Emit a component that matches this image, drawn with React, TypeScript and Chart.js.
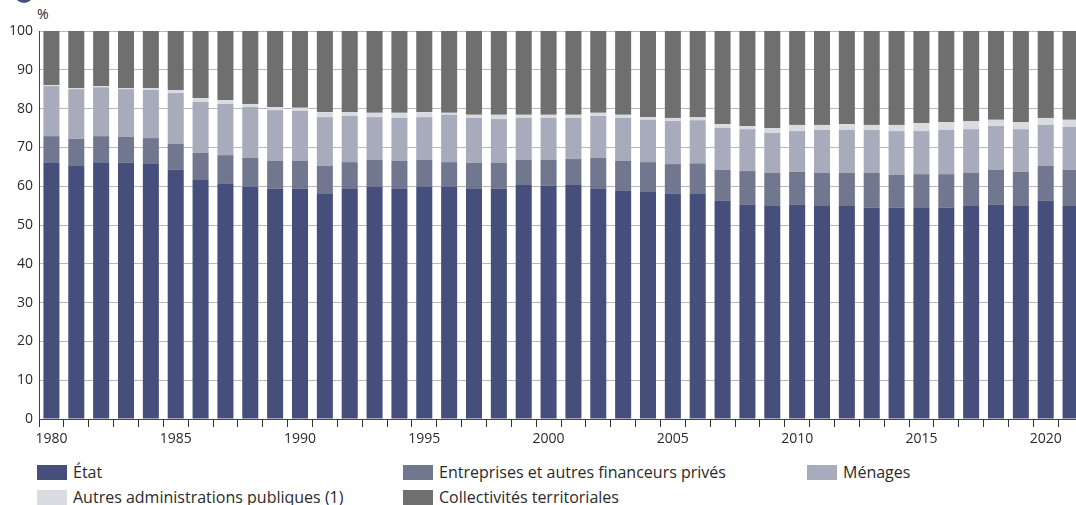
import React, { useEffect, useRef } from "react";
import { Chart, registerables } from "chart.js";

Chart.register(...registerables);

const years: string[] = [
  "1980","1981","1982","1983","1984","1985","1986","1987","1988","1989",
  "1990","1991","1992","1993","1994","1995","1996","1997","1998","1999",
  "2000","2001","2002","2003","2004","2005","2006","2007","2008","2009",
  "2010","2011","2012","2013","2014","2015","2016","2017","2018","2019",
  "2020","2021",
];

const etat: number[] = [
  66.2, 65.2, 66.2, 66.0, 65.7, 64.2, 61.6, 60.6, 59.8, 59.3,
  59.3, 58.2, 59.5, 59.8, 59.5, 59.8, 59.8, 59.5, 59.3, 60.3,
  60.1, 60.3, 59.5, 58.8, 58.5, 58.0, 58.2, 56.2, 55.2, 54.9,
  55.2, 54.9, 54.9, 54.4, 54.4, 54.6, 54.4, 54.9, 55.2, 54.9,
  56.2, 54.9,
];
const entreprises: number[] = [
  6.7, 7.0, 6.7, 6.7, 6.7, 6.7, 7.0, 7.4, 7.5, 7.2,
  7.2, 7.0, 6.7, 7.0, 7.0, 7.0, 6.4, 6.5, 6.7, 6.5,
  6.7, 6.7, 7.8, 7.7, 7.7, 7.7, 7.7, 8.0, 8.7, 8.5,
  8.5, 8.5, 8.5, 9.0, 8.5, 8.5, 8.7, 8.5, 9.0, 8.8,
  9.0, 9.3,
];
const menages: number[] = [
  12.9, 12.8, 12.6, 12.3, 12.4, 13.1, 13.1, 13.2, 13.1, 13.1,
  12.9, 12.6, 11.9, 11.0, 11.1, 11.0, 12.2, 11.6, 11.3, 10.8,
  10.8, 10.6, 10.8, 11.1, 10.9, 11.1, 11.1, 10.8, 10.8, 10.3,
  10.5, 11.1, 11.1, 11.1, 11.3, 11.1, 11.4, 11.3, 11.3, 11.0,
  10.6, 11.1,
];
const autresAdmin: number[] = [
  0.3, 0.3, 0.3, 0.3, 0.5, 0.8, 1.0, 1.0, 0.8, 0.8,
  0.8, 1.3, 1.0, 1.1, 1.3, 1.3, 0.5, 0.8, 1.1, 0.8,
  0.8, 0.8, 0.8, 0.8, 0.7, 0.8, 0.8, 1.0, 0.8, 1.3,
  1.6, 1.3, 1.5, 1.3, 1.6, 2.1, 2.0, 2.1, 1.6, 1.8,
  1.8, 1.8,
];
const collectivites: number[] = [
  13.9, 14.7, 14.2, 14.7, 14.7, 15.2, 17.3, 17.8, 18.8, 19.6,
  19.8, 20.9, 20.9, 21.1, 21.1, 20.9, 21.1, 21.6, 21.6, 21.6,
  21.6, 21.6, 21.1, 21.6, 22.2, 22.4, 22.4, 24.0, 24.5, 25.0,
  24.2, 24.2, 24.0, 24.2, 24.2, 23.7, 23.5, 23.2, 22.9, 23.5,
  22.4, 22.9,
];

const seriesNames: string[] = [
  "État",
  "Entreprises et autres financeurs privés",
  "Ménages",
  "Autres administrations publiques (1)",
  "Collectivités territoriales",
];
const seriesColors: string[] = ["#464f7b", "#727790", "#a8abbb", "#d8dbe0", "#6f6f6f"];
const seriesData: number[][] = [etat, entreprises, menages, autresAdmin, collectivites];

const FONT = "'Open Sans', 'Noto Sans', sans-serif";

// legend slots: [left, top] per series (layout only)
const legendSlots: [number, number][] = [
  [37, 463],
  [403, 463],
  [807, 463],
  [37, 488],
  [403, 488],
];

export default function App() {
  const canvasRef = useRef<HTMLCanvasElement | null>(null);

  useEffect(() => {
    if (!canvasRef.current) return;
    const chart = new Chart(canvasRef.current, {
      type: "bar",
      data: {
        labels: years,
        datasets: seriesData.map((d, i) => ({
          label: seriesNames[i],
          data: d,
          backgroundColor: seriesColors[i],
          borderWidth: 0,
          categoryPercentage: 1,
          barPercentage: 0.645,
        })),
      },
      options: {
        responsive: false,
        animation: false,
        maintainAspectRatio: false,
        layout: { padding: { top: 31, left: 0, right: 0, bottom: 0 } },
        plugins: {
          legend: { display: false },
          tooltip: { enabled: false },
          title: { display: false },
        },
        scales: {
          x: {
            stacked: true,
            offset: true,
            grid: {
              offset: true,
              drawOnChartArea: false,
              drawTicks: true,
              tickLength: 8,
              tickColor: "#333333",
              tickWidth: 1,
            },
            border: { display: true, color: "#444444", width: 1 },
            ticks: {
              autoSkip: false,
              maxRotation: 0,
              minRotation: 0,
              padding: 4,
              color: "#2a2a2a",
              font: { family: FONT, size: 14 },
              callback: (_v: any, idx: number) => {
                const y = parseInt(years[idx], 10);
                return y % 5 === 0 ? years[idx] : "";
              },
            },
            afterFit: (scale: any) => {
              scale.height = 36;
            },
          },
          y: {
            stacked: true,
            min: 0,
            max: 100,
            grid: {
              color: "#b8b8b8",
              lineWidth: 1,
              drawTicks: false,
            },
            border: { display: true, color: "#444444", width: 1 },
            ticks: {
              stepSize: 10,
              padding: 6,
              color: "#2a2a2a",
              font: { family: FONT, size: 14 },
            },
            afterFit: (scale: any) => {
              scale.width = 39;
            },
          },
        },
      },
    });
    return () => chart.destroy();
  }, []);

  return (
    <div
      style={{
        position: "fixed",
        left: 0,
        top: 0,
        width: 1076,
        height: 505,
        overflow: "hidden",
        background: "#ffffff",
        fontFamily: FONT,
      }}
    >
      <div
        style={{
          position: "absolute",
          left: 14,
          top: -17,
          width: 20,
          height: 20,
          borderRadius: "50%",
          background: "#464f7b",
        }}
      />
      <div
        style={{
          position: "absolute",
          left: 37,
          top: 5,
          fontSize: 14,
          color: "#2a2a2a",
          lineHeight: "18px",
        }}
      >
        %
      </div>
      <canvas
        ref={canvasRef}
        width={1083}
        height={455}
        style={{ position: "absolute", left: 0, top: 0, width: 1083, height: 455 }}
      />
      {seriesNames.map((name, i) => (
        <div
          key={name}
          style={{
            position: "absolute",
            left: legendSlots[i][0],
            top: legendSlots[i][1],
            display: "flex",
            alignItems: "center",
            whiteSpace: "nowrap",
          }}
        >
          <span
            style={{
              display: "inline-block",
              width: 30,
              height: 15,
              background: seriesColors[i],
              marginRight: 6,
            }}
          />
          <span style={{ fontSize: 16, color: "#2a2a2a", lineHeight: "18px" }}>{name}</span>
        </div>
      ))}
    </div>
  );
}
